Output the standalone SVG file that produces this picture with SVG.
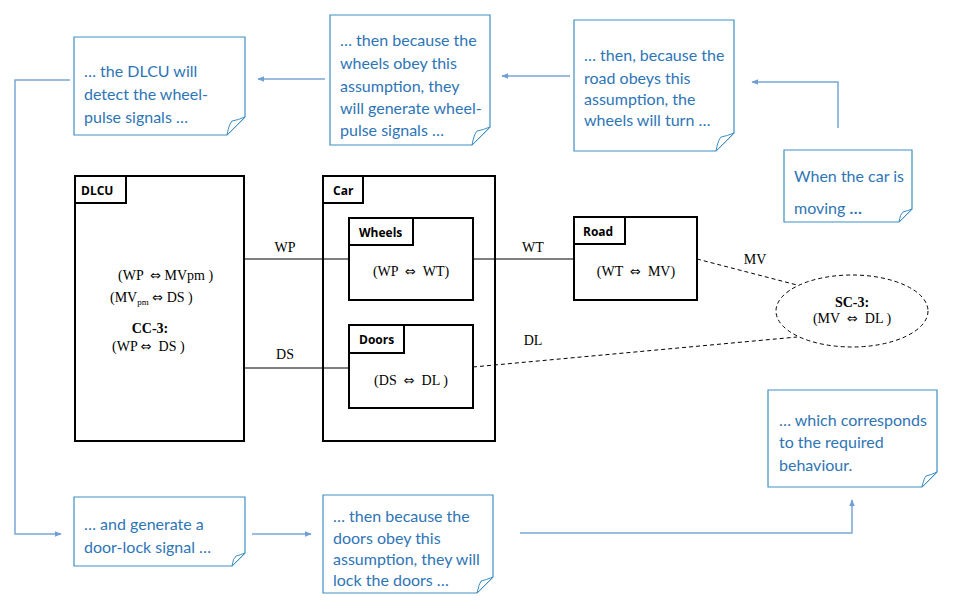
<svg xmlns="http://www.w3.org/2000/svg" width="957" height="614" viewBox="0 0 957 614">
<defs>
<style>
.note{fill:#fff;stroke:#3f8fc4;stroke-width:1.2}
.fold{fill:#fff;stroke:#3f8fc4;stroke-width:1}
.nt{font-family:Lato,"Open Sans",sans-serif;font-size:16px;fill:#2e75b6}
.box{fill:#fff;stroke:#000;stroke-width:2}
.lbl{font-family:"Open Sans","Liberation Sans",sans-serif;font-size:12px;font-weight:bold;fill:#000}
.ser{font-family:"Liberation Serif",serif;font-size:14px;fill:#000}
.serb{font-family:"Liberation Serif",serif;font-size:14px;font-weight:bold;fill:#000}
.eq{font-family:"DejaVu Sans",sans-serif;font-size:13px}
.wire{stroke:#000;stroke-width:1;fill:none}
.dash{stroke:#000;stroke-width:1;fill:none;stroke-dasharray:4 3}
.flow{stroke:#7aa6d6;stroke-width:1.5;fill:none}
</style>
<marker id="ah" viewBox="0 0 10 10" refX="9" refY="5" markerWidth="7" markerHeight="7" orient="auto" markerUnits="userSpaceOnUse">
<path d="M0,1 L10,5 L0,9 z" fill="#6f9fd3"/>
</marker>
</defs>

<g id="note-dlcu">
<path class="note" d="M74,37 H245 V117 L227,135 H74 Z"/>
<path class="fold" d="M245,117 L227,135 Q229,124 232,121 Q238,120 245,117 Z"/>
<text class="nt" x="84" y="77">… the DLCU will</text>
<text class="nt" x="84" y="100">detect the wheel-</text>
<text class="nt" x="84" y="123">pulse signals …</text>
</g>

<g id="note-wheels">
<path class="note" d="M330,15 H490 V127 L472,145 H330 Z"/>
<path class="fold" d="M490,127 L472,145 Q474,134 477,131 Q483,130 490,127 Z"/>
<text class="nt" x="340" y="46">… then because the</text>
<text class="nt" x="340" y="69">wheels obey this</text>
<text class="nt" x="340" y="92">assumption, they</text>
<text class="nt" x="340" y="114">will generate wheel-</text>
<text class="nt" x="340" y="136">pulse signals …</text>
</g>

<g id="note-road">
<path class="note" d="M574,20 H734 V133 L716,151 H574 Z"/>
<path class="fold" d="M734,133 L716,151 Q718,140 721,137 Q727,136 734,133 Z"/>
<text class="nt" x="584" y="61">… then, because the</text>
<text class="nt" x="584" y="84">road obeys this</text>
<text class="nt" x="584" y="105">assumption, the</text>
<text class="nt" x="584" y="126">wheels will turn …</text>
</g>

<g id="note-moving">
<path class="note" d="M784,150 H912 V209 L899,222 H784 Z"/>
<path class="fold" d="M912,209 L899,222 Q900,214 903,212 Q907,211 912,209 Z"/>
<text class="nt" x="794" y="182">When the car is</text>
<text class="nt" x="794" y="214">moving <tspan font-weight="bold">…</tspan></text>
</g>

<g id="note-required">
<path class="note" d="M768,390 H937 V472 L922,487 H768 Z"/>
<path class="fold" d="M937,472 L922,487 Q924,478 926,476 Q931,475 937,472 Z"/>
<text class="nt" x="779" y="426">… which corresponds</text>
<text class="nt" x="779" y="448">to the required</text>
<text class="nt" x="779" y="471">behaviour.</text>
</g>

<g id="note-doorlock">
<path class="note" d="M74,497 H245 V553 L232,566 H74 Z"/>
<path class="fold" d="M245,553 L232,566 Q233,558 236,556 Q240,555 245,553 Z"/>
<text class="nt" x="84" y="530">… and generate a</text>
<text class="nt" x="84" y="553">door-lock signal …</text>
</g>

<g id="note-doors">
<path class="note" d="M323,495 H493 V577 L477,593 H323 Z"/>
<path class="fold" d="M493,577 L477,593 Q479,584 481,581 Q486,580 493,577 Z"/>
<text class="nt" x="333" y="522">… then because the</text>
<text class="nt" x="333" y="544">doors obey this</text>
<text class="nt" x="333" y="565">assumption, they will</text>
<text class="nt" x="333" y="586">lock the doors …</text>
</g>

<g id="dlcu">
<rect class="box" x="75" y="176" width="169" height="265"/>
<rect class="box" x="75" y="176" width="51" height="27"/>
<text class="lbl" x="81" y="195">DLCU</text>
<text class="ser" x="118" y="280" xml:space="preserve">(WP  <tspan class="eq">⇔</tspan> MVpm )</text>
<text class="ser" x="110" y="302">(MV<tspan font-size="9" dy="3">pm</tspan><tspan dy="-3"> </tspan><tspan class="eq">⇔</tspan> DS )</text>
<text class="serb" x="150" y="333" text-anchor="middle">CC-3:</text>
<text class="ser" x="112" y="351" xml:space="preserve">(WP <tspan class="eq">⇔</tspan>  DS )</text>
</g>

<g id="car">
<rect class="box" x="323" y="176" width="172" height="265"/>
<rect class="box" x="323" y="176" width="40" height="27"/>
<text class="lbl" x="333" y="195">Car</text>
</g>

<g id="wheels">
<rect class="box" x="349" y="218" width="124" height="82"/>
<rect class="box" x="349" y="218" width="64" height="27"/>
<text class="lbl" x="359" y="237">Wheels</text>
<text class="ser" x="411" y="276" text-anchor="middle" xml:space="preserve">(WP  <tspan class="eq">⇔</tspan>  WT)</text>
</g>

<g id="doors">
<rect class="box" x="349" y="325" width="124" height="83"/>
<rect class="box" x="349" y="325" width="55" height="28"/>
<text class="lbl" x="359" y="344">Doors</text>
<text class="ser" x="411" y="385" text-anchor="middle" xml:space="preserve">(DS  <tspan class="eq">⇔</tspan>  DL )</text>
</g>

<g id="road">
<rect class="box" x="574" y="217" width="123" height="83"/>
<rect class="box" x="574" y="217" width="51" height="27"/>
<text class="lbl" x="583" y="236">Road</text>
<text class="ser" x="636" y="276" text-anchor="middle" xml:space="preserve">(WT  <tspan class="eq">⇔</tspan>  MV)</text>
</g>

<g id="sc3">
<ellipse cx="852" cy="311" rx="76" ry="36" fill="#fff" stroke="#000" stroke-width="1" stroke-dasharray="4 3"/>
<text class="serb" x="852" y="307" text-anchor="middle" font-size="12">SC-3:</text>
<text class="ser" x="852" y="323" text-anchor="middle" xml:space="preserve">(MV  <tspan class="eq">⇔</tspan>  DL )</text>
</g>

<g id="connectors">
<path class="flow" d="M838,128 V82 H752" marker-end="url(#ah)"/>
<path class="flow" d="M570,76 H502" marker-end="url(#ah)"/>
<path class="flow" d="M325,79 H258" marker-end="url(#ah)"/>
<path class="flow" d="M70,80 H15 V534 H61" marker-end="url(#ah)"/>
<path class="flow" d="M252,534 H311" marker-end="url(#ah)"/>
<path class="flow" d="M520,533 H852 V500" marker-end="url(#ah)"/>
<line class="wire" x1="244" y1="259" x2="349" y2="259"/>
<line class="wire" x1="244" y1="368" x2="349" y2="368"/>
<line class="wire" x1="473" y1="259" x2="574" y2="259"/>
<line class="dash" x1="697" y1="259" x2="797" y2="285"/>
<line class="dash" x1="473" y1="367" x2="797" y2="337"/>
<text class="ser" x="285" y="252" text-anchor="middle">WP</text>
<text class="ser" x="285" y="359" text-anchor="middle">DS</text>
<text class="ser" x="533" y="252" text-anchor="middle">WT</text>
<text class="ser" x="533" y="345" text-anchor="middle">DL</text>
<text class="ser" x="755" y="264" text-anchor="middle">MV</text>
</g>
</svg>
